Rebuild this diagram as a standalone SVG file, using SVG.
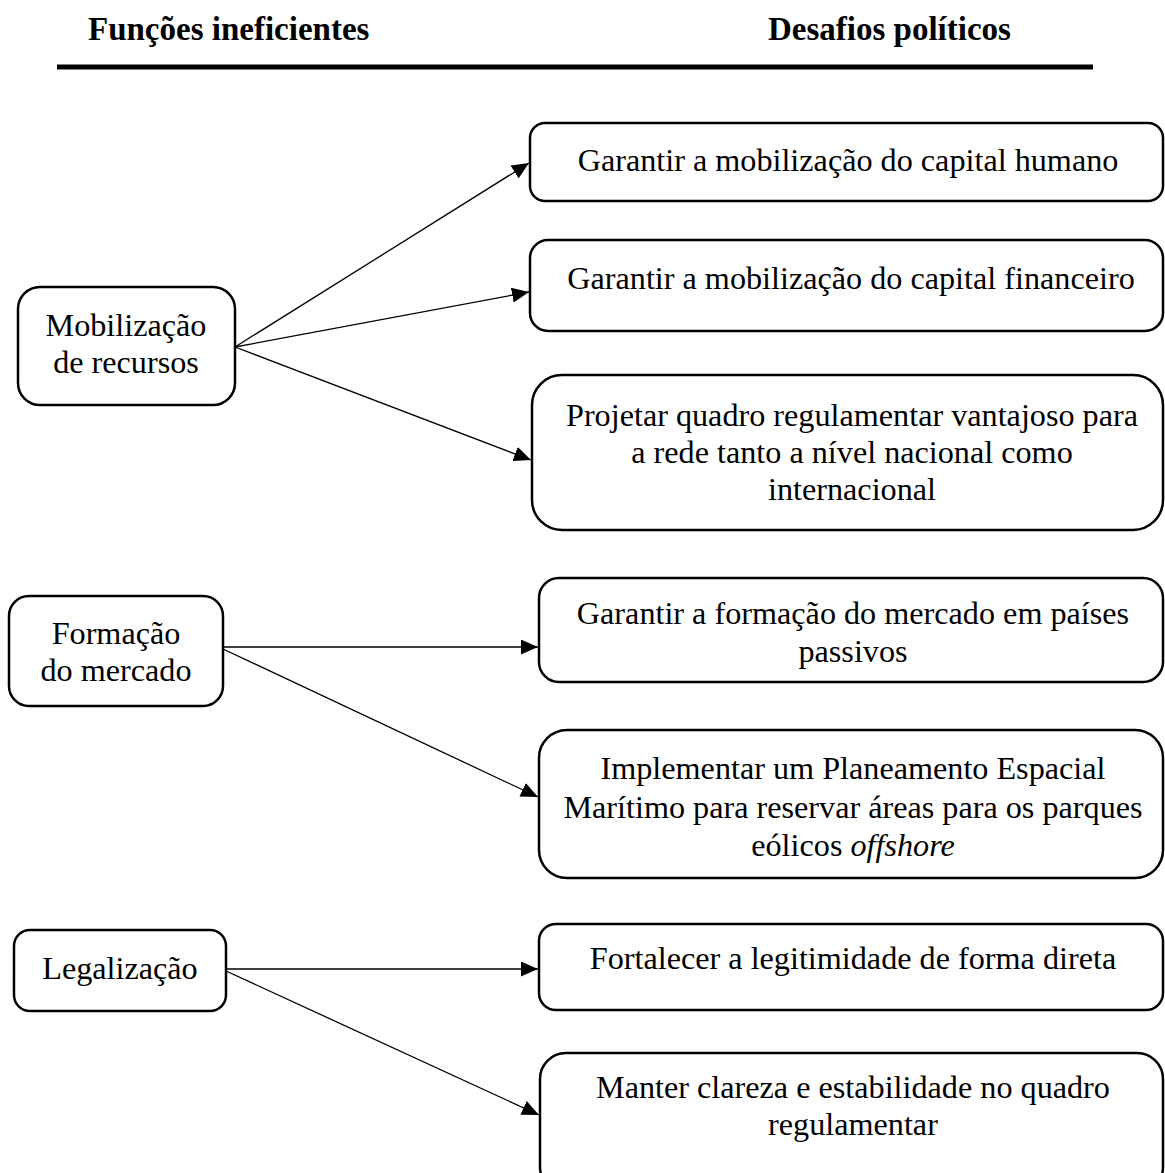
<svg xmlns="http://www.w3.org/2000/svg" width="1165" height="1173" viewBox="0 0 1165 1173">
<defs>
<style>
.box{fill:#fff;stroke:#000;stroke-width:2.5}
.t{font-family:"Liberation Serif","Times New Roman",serif;font-size:32.2px;fill:#000;text-anchor:middle}
.h{font-family:"Liberation Serif","Times New Roman",serif;font-size:33px;font-weight:bold;fill:#000}
.c{stroke:#000;stroke-width:1.3;fill:none;marker-end:url(#ah)}
</style>
<marker id="ah" viewBox="0 0 17 15" refX="17" refY="7.5" markerWidth="17" markerHeight="15" markerUnits="userSpaceOnUse" orient="auto"><path d="M0,0 L17,7.5 L0,15 z" fill="#000"/></marker>
</defs>
<rect width="1165" height="1173" fill="#fff"/>
<g id="header">
<text class="h" x="88" y="40">Funções ineficientes</text>
<text class="h" x="768" y="40">Desafios políticos</text>
<line x1="57" y1="67" x2="1093" y2="67" stroke="#000" stroke-width="5"/>
</g>
<g id="connectors">
<line class="c" x1="235" y1="347" x2="529" y2="163"/>
<line class="c" x1="235" y1="347" x2="529" y2="292"/>
<line class="c" x1="235" y1="347" x2="531" y2="460"/>
<line class="c" x1="223" y1="647" x2="538" y2="647"/>
<line class="c" x1="223" y1="649" x2="538" y2="797"/>
<line class="c" x1="226" y1="969" x2="538" y2="969"/>
<line class="c" x1="226" y1="971" x2="539" y2="1115"/>
</g>
<g id="n-mobilizacao"><rect class="box" x="18" y="287" width="217" height="118" rx="22"/>
<text class="t" x="126" y="336">Mobilização</text><text class="t" x="126" y="373">de recursos</text></g>
<g id="n-formacao"><rect class="box" x="9" y="596" width="214" height="110" rx="20"/>
<text class="t" x="116" y="644">Formação</text><text class="t" x="116" y="681">do mercado</text></g>
<g id="n-legalizacao"><rect class="box" x="14" y="930" width="212" height="81" rx="16"/>
<text class="t" x="120" y="979">Legalização</text></g>
<g id="n-humano"><rect class="box" x="530" y="123" width="633" height="78" rx="15"/>
<text class="t" x="848" y="171">Garantir a mobilização do capital humano</text></g>
<g id="n-financeiro"><rect class="box" x="530" y="240" width="633" height="91" rx="18"/>
<text class="t" x="851" y="289">Garantir a mobilização do capital financeiro</text></g>
<g id="n-projetar"><rect class="box" x="532" y="375" width="631" height="155" rx="30"/>
<text class="t" x="852" y="426">Projetar quadro regulamentar vantajoso para</text>
<text class="t" x="852" y="463">a rede tanto a nível nacional como</text>
<text class="t" x="852" y="500">internacional</text></g>
<g id="n-passivos"><rect class="box" x="539" y="578" width="624" height="104" rx="20"/>
<text class="t" x="853" y="624">Garantir a formação do mercado em países</text>
<text class="t" x="853" y="662">passivos</text></g>
<g id="n-msp"><rect class="box" x="539" y="730" width="624" height="148" rx="28"/>
<text class="t" x="853" y="779">Implementar um Planeamento Espacial</text>
<text class="t" x="853" y="818">Marítimo para reservar áreas para os parques</text>
<text class="t" x="853" y="856">eólicos <tspan font-style="italic">offshore</tspan></text></g>
<g id="n-legitimidade"><rect class="box" x="539" y="924" width="624" height="86" rx="17"/>
<text class="t" x="853" y="969">Fortalecer a legitimidade de forma direta</text></g>
<g id="n-clareza"><rect class="box" x="540" y="1053" width="623" height="140" rx="26"/>
<text class="t" x="853" y="1098">Manter clareza e estabilidade no quadro</text>
<text class="t" x="853" y="1135">regulamentar</text></g>
</svg>
